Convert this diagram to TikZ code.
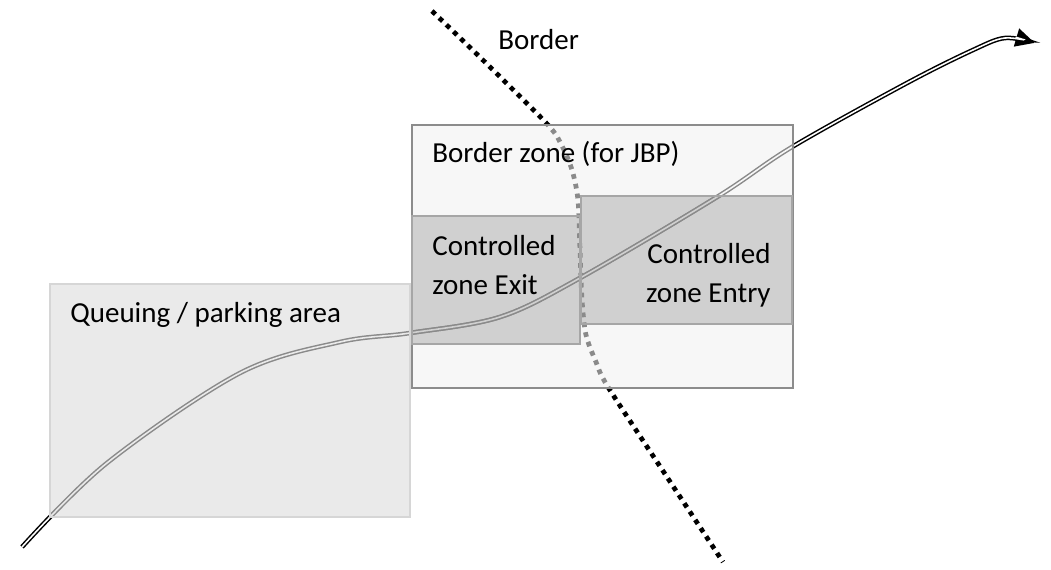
\documentclass[tikz,border=0pt]{standalone}
\usepackage{fontspec}
\setmainfont{Carlito}
\usetikzlibrary{arrows.meta}

\definecolor{queuefill}{HTML}{EAEAEA}
\definecolor{queueedge}{HTML}{D6D6D6}
\definecolor{zonefill}{HTML}{F7F7F7}
\definecolor{zoneedge}{HTML}{8C8C8C}
\definecolor{ctrlfill}{HTML}{D0D0D0}
\definecolor{ctrledge}{HTML}{A6A6A6}
\definecolor{faded}{HTML}{8A8A8A}

% the two long curves, used in several clipped passes
\newcommand{\routecurve}{plot[smooth, tension=0.55] coordinates {(22,547) (107,463) (240,373) (340,342) (410,333) (500,317) (580,278) (717,197) (792,147) (907,83) (973,50) (1005,38) (1035,43)}}
\newcommand{\bordercurve}{plot[smooth, tension=0.5] coordinates {(432,11) (490,67) (548,125) (562,146) (572,170) (578,200) (580,250) (582,300) (586,335) (596,362) (608,387) (665,474) (723,562)}}

\tikzset{
  label text/.style={font=\fontsize{16.5pt}{22.7pt}\selectfont, inner sep=0pt},
  borderline/.style={line width=2.7pt, dash pattern=on 2.7pt off 2.95pt},
  routeline/.style={line width=0.85pt, double distance=0.9pt},
}

\begin{document}
\begin{tikzpicture}[x=0.02cm, y=-0.02cm]
    \useasboundingbox (0,0) rectangle (1051,570);
    % Area fills
    \fill[queuefill] (50,284) rectangle (410,517);
    \fill[zonefill] (412,125) rectangle (793,388);
    \fill[ctrlfill] (412,216) rectangle (580,344);
    \fill[ctrlfill] (581,196) rectangle (792,324);
    % Outside the areas: black border and route
    \begin{scope}[even odd rule]
        \clip (0,0) rectangle (1051,570) (50,284) rectangle (412,517) (412,125) rectangle (793,388);
        \draw[borderline, black] \bordercurve;
        \draw[line width=2.6pt, -{Triangle[length=11pt, width=10pt]}] \routecurve;
        \draw[white, line width=0.9pt, shorten >=11.5pt] \routecurve;
    \end{scope}
    % Inside the queuing area
    \begin{scope}
        \clip (50,284) rectangle (412,517);
        \draw[routeline, faded, double=queuefill] \routecurve;
    \end{scope}
    % Inside the border zone
    \begin{scope}
        \clip (412,125) rectangle (793,388);
        \draw[routeline, faded, double=zonefill] \routecurve;
        \draw[borderline, faded] \bordercurve;
    \end{scope}
    \begin{scope}
        \clip (412,216) rectangle (580,344) (581,196) rectangle (792,324);
        \draw[routeline, faded, double=ctrlfill] \routecurve;
    \end{scope}
    % Area outlines
    \draw[queueedge, line width=1.1pt] (50,284) rectangle (410,517);
    \draw[zoneedge, line width=1.1pt] (412,125) rectangle (793,388);
    \draw[ctrledge, line width=1.1pt] (412,216) rectangle (580,344);
    \draw[ctrledge, line width=1.1pt] (581,196) rectangle (792,324);
    % Labels
    \node[label text, anchor=base west] (border) at (498,50) {Border};
    \node[label text, anchor=base west] (zone) at (432,163) {Border zone (for JBP)};
    \node[label text, anchor=base west] (queue) at (70,323) {Queuing / parking area};
    \node[label text, anchor=base west, align=left] (exit) at (432,295) {Controlled\\zone Exit};
    \node[label text, anchor=base east, align=right] (entry) at (771,303) {Controlled\\zone Entry};
\end{tikzpicture}
\end{document}
